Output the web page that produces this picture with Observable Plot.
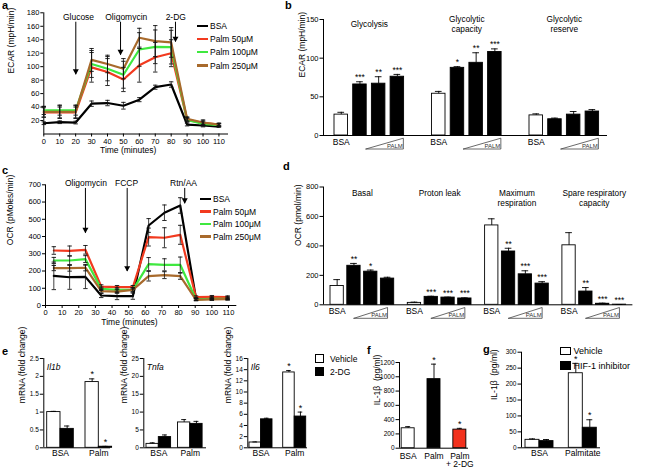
<!DOCTYPE html>
<html>
<head>
<meta charset="utf-8">
<script src="https://cdn.jsdelivr.net/npm/d3@7"></script>
<script src="https://cdn.jsdelivr.net/npm/@observablehq/plot@0.6"></script>
<style>
  html, body { margin: 0; padding: 0; background: #fff; }
  #fig { position: relative; width: 657px; height: 468px; overflow: hidden; font-family: "Liberation Sans", Arial, sans-serif; color: #000; }
  #fig svg { position: absolute; left: 0; top: 0; background: transparent !important; overflow: visible; }
  .plab { position: absolute; font-weight: bold; font-size: 11px; line-height: 11px; }
  .leg { position: absolute; display: flex; align-items: center; height: 12px; white-space: nowrap; }
  .leg .ln { display: inline-block; width: 11px; height: 2.4px; margin-right: 2px; }
  .leg .sq { display: inline-block; box-sizing: border-box; border: 1px solid #000; }
</style>
</head>
<body>
<div id="fig"></div>
<script>
// ================= DATA =================
// Panel a – ECAR time course
const aTime = [0, 10, 20, 30, 40, 50, 60, 70, 80, 90, 100, 110];
const lineSeries = ["BSA", "Palm 50μM", "Palm 100μM", "Palm 250μM"];
const aBSA  = [16, 17.5, 17, 45, 46, 42, 51, 69.5, 73.5, 14, 12.6, 11];
const aP50  = [32, 32, 32, 99, 92, 81, 102, 114, 120, 21, 16.6, 14];
const aP100 = [35, 35, 35, 104, 97, 88, 125.5, 129.5, 129, 21, 15, 13];
const aP250 = [33, 33, 33, 110, 104, 97, 143, 138, 136, 22.5, 17, 14];
const aBSAerr  = [2, 2, 2, 4, 4, 5, 3, 3, 4, 2, 2, 1];
const aP50err  = [7, 8, 8, 22, 20, 18, 25, 22, 20, 3, 3, 2];
const aP100err = [6, 7, 7, 20, 18, 20, 25, 25, 25, 3, 3, 2];
const aP250err = [8, 10, 10, 17, 13, 15, 14, 23, 22, 3, 4, 2];
const aInjections = ["Glucose", "Oligomycin", "2-DG"];
const aInjectionTime = [20.1, 48.2, 82.7];
const aXTicks = [0, 10, 20, 30, 40, 50, 60, 70, 80, 90, 100, 110];
const aYTicks = [20, 40, 60, 80, 100, 120, 140, 160, 180];

// Panel c – OCR time course
const cTime = [5, 14.5, 24, 33.5, 43, 52.5, 62, 71.5, 81, 90.5, 100, 109.5];
const cBSA  = [172, 164, 166, 58, 54, 54, 464, 538, 580, 39, 43, 43];
const cP50  = [319, 317, 323, 110, 106, 106, 397, 393, 410, 48, 50, 48];
const cP100 = [261, 261, 269, 97, 91, 91, 240, 236, 236, 35, 39, 39];
const cP250 = [217, 217, 219, 83, 81, 91, 170, 176, 170, 33, 35, 37];
const cBSAerr  = [80, 70, 68, 12, 20, 18, 40, 45, 45, 8, 8, 8];
const cP50err  = [22, 28, 25, 10, 10, 10, 52, 58, 55, 8, 8, 8];
const cP100err = [18, 25, 20, 10, 12, 12, 38, 35, 45, 6, 6, 6];
const cP250err = [15, 18, 18, 10, 10, 12, 28, 20, 18, 6, 6, 6];
const cInjections = ["Oligomycin", "FCCP", "Rtn/AA"];
const cInjectionTime = [24, 49.1, 83.7];
const cXTicks = [0, 10, 20, 30, 40, 50, 60, 70, 80, 90, 100, 110];
const cYTicks = [0, 100, 200, 300, 400, 500, 600, 700];

// Panel b – glycolysis parameters
const barConds = ["BSA", "Palm 50μM", "Palm 100μM", "Palm 250μM"];
const bGroups = ["Glycolysis", "Glycolytic capacity", "Glycolytic reserve"];
const bTitles = ["Glycolysis", "Glycolytic\ncapacity", "Glycolytic\nreserve"];
const bMean = [[27, 66, 67, 76], [54, 87.5, 94, 108], [26, 21, 27, 31]];
const bErr  = [[3, 3.5, 9, 3], [3, 1.5, 13, 4], [2, 1.5, 4, 2.5]];
const bStars = [["", "***", "**", "***"], ["", "*", "**", "***"], ["", "", "", ""]];
const bYTicks = [0, 50, 100, 150];

// Panel d – respiration parameters
const dGroups = ["Basal", "Proton leak", "Maximum respiration", "Spare respiratory capacity"];
const dTitles = ["Basal", "Proton leak", "Maximum\nrespiration", "Spare respiratory\ncapacity"];
const dMean = [[128, 265, 225, 178], [13, 54, 49, 43], [539, 362, 207, 144], [404, 90, 7, 1]];
const dErr  = [[43, 16, 11, 9], [5, 4, 3, 4], [45, 22, 24, 13], [86, 27, 4, 1]];
const dStars = [["", "**", "*", ""], ["", "***", "***", "***"], ["", "**", "***", "***"], ["", "**", "***", "***"]];
const dYTicks = [0, 200, 400, 600, 800];

// Panel e – mRNA
const eGenes = ["Il1b", "Tnfa", "Il6"];
const eGroups = ["BSA", "Palm"];
const eConds = ["Vehicle", "2-DG"];
const eMean = [[[1.0, 0.53], [1.84, 0.03]], [[1.1, 3.0], [7.1, 6.7]], [[0.95, 5.1], [13.5, 5.6]]];
const eErr  = [[[0.02, 0.08], [0.09, 0.01]], [[0.3, 0.6], [0.8, 0.7]], [[0.1, 0.2], [0.35, 0.8]]];
const eStars = [[["", ""], ["*", "*"]], [["", ""], ["", ""]], [["", ""], ["*", "*"]]];
const eYTicks = [[0, 0.5, 1, 1.5, 2, 2.5], [0, 5, 10, 15, 20, 25], [0, 2, 4, 6, 8, 10, 12, 14, 16]];

// Panel f – IL-1β with 2-DG
const fCats = ["BSA", "Palm", "Palm\n+ 2-DG"];
const fMean = [279, 967, 260];
const fErr = [23, 210, 18];
const fStars = ["", "*", "*"];
const fYTicks = [0, 200, 400, 600, 800, 1000, 1200];

// Panel g – IL-1β with HIF-1 inhibitor
const gGroups = ["BSA", "Palmitate"];
const gConds = ["Vehicle", "HIF-1 inhibitor"];
const gMean = [[25, 21], [234, 63]];
const gErr  = [[3, 5], [31, 25]];
const gStars = [["", ""], ["*", "*"]];
const gYTicks = [0, 50, 100, 150, 200, 250, 300];

// ================= STYLE / LAYOUT =================
const FONT = "'Liberation Sans', Arial, Helvetica, sans-serif";
const W = 657, H = 468;
const LINE_COLORS = ["#000000", "#f23a1f", "#3fe83f", "#a86a2c"];
const fig = document.getElementById("fig");

function box(top, bottom, left, right) {
  return {
    width: W, height: H,
    marginTop: top, marginBottom: H - bottom, marginLeft: left, marginRight: W - right,
    style: {fontFamily: FONT, fontSize: "7.5px", background: "transparent", overflow: "visible"}
  };
}
const fmt = d => String(d);

const capSym = {draw(ctx, size) { const r = Math.sqrt(size / Math.PI); ctx.moveTo(-r, 0); ctx.lineTo(r, 0); }};
const headSym = {draw(ctx, size) { const r = Math.sqrt(size / Math.PI); ctx.moveTo(-r, -1.8 * r); ctx.lineTo(r, -1.8 * r); ctx.lineTo(0, 0); ctx.closePath(); }};

function timeCourse(o) {
  const rows = [];
  lineSeries.forEach((s, k) => o.times.forEach((t, i) => rows.push({series: s, t, v: o.vals[k][i], e: o.errs[k][i]})));
  const ann = o.injections.map((name, i) => ({name, t: o.injT[i], tx: o.injT[i] + o.textShift[i], tip: o.tips[i]}));
  return Plot.plot({
    ...box(o.top, o.bottom, o.left, o.right),
    x: {domain: o.xDomain},
    y: {domain: o.yDomain},
    color: {domain: lineSeries, range: LINE_COLORS},
    marks: [
      Plot.ruleY([0], {strokeWidth: 1}),
      Plot.ruleX([0], {y1: 0, y2: o.yDomain[1], strokeWidth: 1}),
      Plot.axisX({ticks: o.xTicks, tickFormat: fmt, tickSize: 3, tickPadding: 1.5, label: null, fontSize: 7.5}),
      Plot.axisY({ticks: o.yTicks, tickFormat: fmt, tickSize: 3, tickPadding: 1.5, label: null, fontSize: 7.5}),
      Plot.text([o.xLabel], {x: o.xLabelT, frameAnchor: "bottom", dy: o.xLabelDy, fontSize: 8.5}),
      Plot.text([o.yLabel], {frameAnchor: "left", rotate: -90, dx: o.yLabelDx, fontSize: 8.5}),
      Plot.line(rows, {x: "t", y: "v", stroke: "series", z: "series", strokeWidth: 2.2}),
      Plot.ruleX(rows, {x: "t", y1: d => d.v - d.e, y2: d => d.v + d.e, stroke: "#111", strokeWidth: 0.8}),
      Plot.dot(rows, {x: "t", y: d => d.v + d.e, symbol: capSym, r: 2.2, stroke: "#111", strokeWidth: 0.9, fill: "none"}),
      Plot.dot(rows, {x: "t", y: d => d.v - d.e, symbol: capSym, r: 2.2, stroke: "#111", strokeWidth: 0.9, fill: "none"}),
      Plot.ruleX(ann, {x: "t", y1: o.arrowFrom, y2: "tip", strokeWidth: 1}),
      Plot.dot(ann, {x: "t", y: "tip", symbol: headSym, r: 3, fill: "#000", stroke: "none"}),
      Plot.text(ann, {x: "tx", y: o.textY, text: "name", fontSize: 8.5})
    ]
  });
}

function barAxes(o) {
  const marks = [
    Plot.ruleY([o.yDomain[0]], {strokeWidth: 1}),
    Plot.ruleX([0], {y1: o.yDomain[0], y2: o.yDomain[1], strokeWidth: 1}),
    Plot.axisY({ticks: o.yTicks, tickFormat: fmt, tickSize: 3.5, tickPadding: 1.5, label: null, fontSize: o.tickFont}),
    Plot.text([o.yLabel], {frameAnchor: "left", rotate: -90, dx: o.yLabelDx, fontSize: 8.5})
  ];
  if (o.title) marks.push(Plot.text([o.title], {frameAnchor: "top-left", textAnchor: "start", dx: 3, dy: 5, fontStyle: "italic", fontSize: 8.5}));
  return Plot.plot({
    ...box(o.top, o.bottom, o.left, o.right),
    x: {domain: [0, 1], axis: null},
    y: {domain: o.yDomain, axis: null},
    marks
  });
}

function facetBars(o) {
  const n = o.conds.length;
  const pi = 1 - o.bw / o.step;
  const po = (o.facetW / o.step - n + pi) / 2;
  const right = o.facetLeft + o.groups.length * o.facetW;
  const sw = 0.9;
  const rows = [];
  o.groups.forEach((g, i) => o.conds.forEach((c, j) => rows.push({group: g, cond: c, v: o.mean[i][j], e: o.err[i][j], star: o.stars[i][j]})));
  const marks = [
    Plot.barY(rows, {fx: "group", x: "cond", y: "v", fill: "cond", stroke: "#000", strokeWidth: sw}),
    Plot.ruleX(rows, {fx: "group", x: "cond", y1: "v", y2: d => d.v + d.e, stroke: "#000", strokeWidth: sw}),
    Plot.tickY(rows, {fx: "group", x: "cond", y: d => d.v + d.e, insetLeft: o.capInset, insetRight: o.capInset, stroke: "#000", strokeWidth: sw}),
    Plot.text(rows.filter(d => d.star), {fx: "group", x: "cond", y: d => d.v + d.e, text: "star", dy: -1.5, lineAnchor: "bottom", fontSize: o.starFont})
  ];
  if (o.titles) {
    marks.push(Plot.text(o.groups.map((g, i) => ({group: g, title: o.titles[i]})),
      {fx: "group", frameAnchor: "top", text: "title", dy: o.titleDy, lineAnchor: o.titleAnchor, lineHeight: o.titleLH, fontSize: 8.3}));
  }
  if (o.firstLabel) {
    marks.push(Plot.text(rows.filter(d => d.cond === o.conds[0]),
      {fx: "group", x: "cond", text: () => o.firstLabel, frameAnchor: "bottom", dy: o.labelDy, fontSize: 8.5}));
  }
  if (o.groupLabels) {
    marks.push(Plot.text(o.groups.map(g => ({group: g})),
      {fx: "group", text: "group", frameAnchor: "bottom", dy: o.labelDy, fontSize: 8.5}));
  }
  if (o.wedge) {
    const pxPerUnit = (o.bottom - o.top) / (o.yDomain[1] - o.yDomain[0]);
    const wTop = o.yDomain[0] - 2.7 / pxPerUnit, wBot = o.yDomain[0] - 13.5 / pxPerUnit;
    const wedge = o.groups.flatMap(g => [
      {group: g, cond: o.conds[1], y: wBot},
      {group: g, cond: o.conds[n - 1], y: wTop},
      {group: g, cond: o.conds[n - 1], y: wBot},
      {group: g, cond: o.conds[1], y: wBot}
    ]);
    marks.push(Plot.line(wedge, {fx: "group", x: "cond", y: "y", z: "group", dx: o.wedgeDx, stroke: "#444", strokeWidth: 0.8, fill: "none"}));
    marks.push(Plot.text(o.groups.map(g => ({group: g, cond: o.conds[n - 1]})),
      {fx: "group", x: "cond", y: () => wBot, text: () => "PALM", textAnchor: "end", dx: o.wedgeDx - 0.5, dy: -1, lineAnchor: "bottom", fontSize: 6, fill: "#333"}));
  }
  return Plot.plot({
    ...box(o.top, o.bottom, o.facetLeft, right),
    fx: {domain: o.groups, padding: 0, axis: null, round: false},
    x: {domain: o.conds, paddingInner: pi, paddingOuter: po, axis: null, round: false},
    y: {domain: o.yDomain, axis: null},
    color: {domain: o.conds, range: o.fills},
    marks
  });
}

function add(el) { fig.appendChild(el); }

// ---------- Panel a ----------
add(timeCourse({
  times: aTime, vals: [aBSA, aP50, aP100, aP250], errs: [aBSAerr, aP50err, aP100err, aP250err],
  top: 12.3, bottom: 133.5, left: 43.3, right: 228, xDomain: [0, 116], yDomain: [0, 180],
  xTicks: aXTicks, yTicks: aYTicks,
  xLabel: "Time (minutes)", xLabelT: 53, xLabelDy: 18.5,
  yLabel: "ECAR (mpH/min)", yLabelDx: -33,
  injections: aInjections, injT: aInjectionTime, textShift: [1.7, 3.6, 0.2],
  tips: [88, 117, 136.5], arrowFrom: 166, textY: 173.5
}));

// ---------- Panel c ----------
add(timeCourse({
  times: cTime, vals: [cBSA, cP50, cP100, cP250], errs: [cBSAerr, cP50err, cP100err, cP250err],
  top: 184.3, bottom: 305, left: 45, right: 236.3, xDomain: [0, 115], yDomain: [0, 700],
  xTicks: cXTicks, yTicks: cYTicks,
  xLabel: "Time (minutes)", xLabelT: 50.5, xLabelDy: 19.5,
  yLabel: "OCR (pMoles/min)", yLabelDx: -35,
  injections: cInjections, injT: cInjectionTime, textShift: [0.3, -0.4, -0.7],
  tips: [419, 197, 590], arrowFrom: 679, textY: 707.6
}));

// ---------- Panel b ----------
add(barAxes({top: 19, bottom: 135, left: 323, right: 607, yDomain: [0, 150], yTicks: bYTicks,
  yLabel: "ECAR (mpH/min)", yLabelDx: -21, tickFont: 7.5}));
add(facetBars({
  groups: bGroups, conds: barConds, mean: bMean, err: bErr, stars: bStars,
  fills: ["#fff", "#000", "#000", "#000"], yDomain: [0, 150], top: 19, bottom: 135,
  facetLeft: 320.05, facetW: 97.5, bw: 13.5, step: 18.7, capInset: 3.4, starFont: 8.5,
  titles: bTitles, titleDy: 4, titleAnchor: "middle", titleLH: 1.3,
  firstLabel: "BSA", labelDy: 9.5, wedge: true, wedgeDx: 6
}));

// ---------- Panel d ----------
add(barAxes({top: 186.5, bottom: 304.3, left: 323, right: 632.4, yDomain: [0, 800], yTicks: dYTicks,
  yLabel: "OCR (pmol/min)", yLabelDx: -25, tickFont: 7.5}));
add(facetBars({
  groups: dGroups, conds: barConds, mean: dMean, err: dErr, stars: dStars,
  fills: ["#fff", "#000", "#000", "#000"], yDomain: [0, 800], top: 186.5, bottom: 304.3,
  facetLeft: 323.2, facetW: 77.3, bw: 13.3, step: 16.8, capInset: 3.3, starFont: 8.5,
  titles: dTitles, titleDy: 2.3, titleAnchor: "top", titleLH: 1.2,
  firstLabel: "BSA", labelDy: 9, wedge: true, wedgeDx: 0
}));

// ---------- Panel e ----------
const eLayout = [
  {left: 43.3, right: 110, facetLeft: 40.85, facetW: 38.3, bw: 13.3, yLabelDx: -21.3},
  {left: 143.3, right: 206, facetLeft: 142.55, facetW: 31.5, bw: 12.3, yLabelDx: -19.3},
  {left: 247.3, right: 307, facetLeft: 243.65, facetW: 33.7, bw: 11.5, yLabelDx: -19.3}
];
eGenes.forEach((gene, k) => {
  const L = eLayout[k];
  const yMax = eYTicks[k][eYTicks[k].length - 1];
  add(barAxes({top: 358, bottom: 447.3, left: L.left, right: L.right, yDomain: [0, yMax], yTicks: eYTicks[k],
    yLabel: "mRNA (fold change)", yLabelDx: L.yLabelDx, tickFont: 6.5, title: gene}));
  add(facetBars({
    groups: eGroups, conds: eConds, mean: eMean[k], err: eErr[k], stars: eStars[k],
    fills: ["#fff", "#000"], yDomain: [0, yMax], top: 358, bottom: 447.3,
    facetLeft: L.facetLeft, facetW: L.facetW, bw: L.bw, step: L.bw, capInset: L.bw * 0.3, starFont: 9,
    groupLabels: true, labelDy: 8.5
  }));
});

// ---------- Panel f ----------
add(barAxes({top: 362, bottom: 447.7, left: 399, right: 468, yDomain: [0, 1200], yTicks: fYTicks,
  yLabel: "IL-1β  (pg/ml)", yLabelDx: -22, tickFont: 6.5}));
{
  const bw = 13, step = 25.85, n = fCats.length;
  const pi = 1 - bw / step, po = (69 / step - n + pi) / 2;
  const rows = fCats.map((c, i) => ({cat: c, v: fMean[i], e: fErr[i], star: fStars[i]}));
  add(Plot.plot({
    ...box(362, 447.7, 399, 468),
    x: {domain: fCats, paddingInner: pi, paddingOuter: po, axis: null, round: false},
    y: {domain: [0, 1200], axis: null},
    color: {domain: fCats, range: ["#fff", "#000", "#f2311d"]},
    marks: [
      Plot.barY(rows, {x: "cat", y: "v", fill: "cat", stroke: "#000", strokeWidth: 0.9}),
      Plot.ruleX(rows, {x: "cat", y1: "v", y2: d => d.v + d.e, stroke: "#000", strokeWidth: 0.9}),
      Plot.tickY(rows, {x: "cat", y: d => d.v + d.e, insetLeft: 4, insetRight: 4, stroke: "#000", strokeWidth: 0.9}),
      Plot.text(rows.filter(d => d.star), {x: "cat", y: d => d.v + d.e, text: "star", dy: -1.5, lineAnchor: "bottom", fontSize: 9}),
      Plot.text(rows, {x: "cat", text: "cat", frameAnchor: "bottom", dy: 4.5, lineAnchor: "top", lineHeight: 1.0, fontSize: 8.5})
    ]
  }));
}

// ---------- Panel g ----------
add(barAxes({top: 351.7, bottom: 447.3, left: 521, right: 600, yDomain: [0, 300], yTicks: gYTicks,
  yLabel: "IL-1β  (pg/ml)", yLabelDx: -27, tickFont: 6.5}));
add(facetBars({
  groups: gGroups, conds: gConds, mean: gMean, err: gErr, stars: gStars,
  fills: ["#fff", "#000"], yDomain: [0, 300], top: 351.7, bottom: 447.3,
  facetLeft: 517.35, facetW: 43.3, bw: 14, step: 14, capInset: 4, starFont: 9,
  groupLabels: true, labelDy: 8.5
}));

// ---------- Legends (HTML) ----------
function lineLegend(x, ys, labels, colors) {
  labels.forEach((lab, i) => {
    const d = document.createElement("div");
    d.className = "leg";
    d.style.left = x + "px"; d.style.top = (ys[i] - 6) + "px"; d.style.fontSize = "8.5px";
    d.innerHTML = `<span class="ln" style="background:${colors[i]}"></span>${lab}`;
    fig.appendChild(d);
  });
}
function boxLegend(x, ys, labels, fills, w, h, gap, fontSize) {
  labels.forEach((lab, i) => {
    const d = document.createElement("div");
    d.className = "leg";
    d.style.left = x + "px"; d.style.top = (ys[i] - 6) + "px"; d.style.fontSize = fontSize + "px";
    d.innerHTML = `<span class="sq" style="width:${w}px;height:${h}px;background:${fills[i]};margin-right:${gap}px"></span>${lab}`;
    fig.appendChild(d);
  });
}
lineLegend(197, [26, 39, 52.3, 65.7], lineSeries, LINE_COLORS);
lineLegend(200, [199, 211.7, 224.3, 236.7], lineSeries, LINE_COLORS);
boxLegend(315, [358.5, 371.5], eConds, ["#fff", "#000"], 9, 9, 6, 8.5);
boxLegend(560, [351.2, 365.5], gConds, ["#fff", "#000"], 10.5, 8.5, 3, 9);

// ---------- Panel letters ----------
[["a", 5, 6.4], ["b", 288, 6.4], ["c", 5, 171], ["d", 286, 167], ["e", 5, 352], ["f", 370, 351], ["g", 486, 350]]
  .forEach(([t, cx, cy]) => {
    const d = document.createElement("div");
    d.className = "plab";
    d.textContent = t;
    d.style.left = (cx - 3) + "px";
    d.style.top = (cy - 6.4) + "px";
    fig.appendChild(d);
  });
</script>
</body>
</html>
